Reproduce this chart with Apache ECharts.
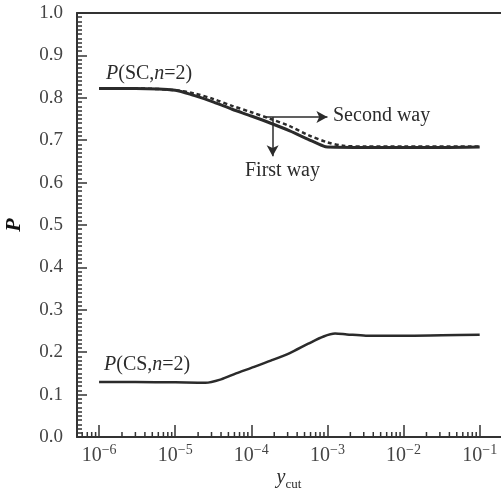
<!DOCTYPE html>
<html>
<head>
    <meta charset="utf-8">
    <script src="https://cdn.jsdelivr.net/npm/echarts@6/dist/echarts.min.js"></script>
    <style type="text/css">
        html, body { margin: 0; padding: 0; background: #fff; }
        #main { width: 501px; height: 488px; }
    </style>
</head>
<body>
    <div id="main"></div>
    <script>
        // y_cut values (log axis drawn as log10)
        const ycutSC = [1e-6, 3e-6, 1e-5, 1.8e-5, 3.2e-5, 5.6e-5, 1e-4, 1.8e-4, 3.2e-4, 5.6e-4, 8.9e-4, 1e-3, 3.2e-3, 1e-2, 3.2e-2, 1e-1];
        const pSC       = [0.822, 0.822, 0.818, 0.805, 0.790, 0.773, 0.757, 0.740, 0.722, 0.702, 0.686, 0.684, 0.683, 0.683, 0.683, 0.684];
        const ycutSC2 = [1e-6, 3e-6, 1e-5, 1.8e-5, 3.2e-5, 5.6e-5, 1e-4, 1.8e-4, 3.2e-4, 5.6e-4, 1e-3, 1.6e-3, 3.2e-3, 1e-2, 1e-1];
        const pSC2      = [0.822, 0.822, 0.818, 0.810, 0.797, 0.781, 0.766, 0.750, 0.733, 0.712, 0.695, 0.687, 0.685, 0.685, 0.685];
        const ycutCS = [1e-6, 3e-6, 1e-5, 2.5e-5, 4e-5, 6.3e-5, 1e-4, 1.8e-4, 3.2e-4, 5.6e-4, 8.9e-4, 1.26e-3, 1.8e-3, 3.2e-3, 1e-2, 3.2e-2, 1e-1];
        const pCS       = [0.130, 0.130, 0.129, 0.128, 0.136, 0.150, 0.163, 0.180, 0.198, 0.220, 0.237, 0.244, 0.242, 0.239, 0.239, 0.240, 0.241];
        const majorExp = [-6, -5, -4, -3, -2, -1];

        const X_MIN = -6.29, X_MAX = -0.72;
        const lg = Math.log10;
        const pair = (xs, ys) => xs.map((x, i) => [lg(x), ys[i]]);

        // minor ticks at 2..9 x 10^n inside the axis range
        const minor = [];
        for (let e = -7; e <= -1; e++) {
            for (let k = 2; k <= 9; k++) {
                const v = lg(k) + e;
                if (v > X_MIN && v < X_MAX) minor.push([v, 0]);
            }
        }

        const serif = 'Liberation Serif, Times New Roman, serif';
        const ink = '#2b2b2b';

        const chart = echarts.init(document.getElementById('main'));
        chart.setOption({
            animation: false,
            backgroundColor: '#fff',
            grid: { left: 77, top: 13, right: 0, bottom: 51, containLabel: false, outerBoundsMode: 'none' },
            xAxis: [{
                type: 'value', min: X_MIN, max: X_MAX,
                name: '{i|y}{s|cut}', nameLocation: 'middle', nameGap: 31, nameMoveOverlap: false,
                nameTextStyle: {
                    rich: {
                        i: { fontFamily: serif, fontStyle: 'italic', fontSize: 20, color: ink, verticalAlign: 'bottom', padding: [0, 0, 3, 0] },
                        s: { fontFamily: serif, fontSize: 13, color: ink, verticalAlign: 'bottom' }
                    }
                },
                axisLine: { lineStyle: { color: '#333', width: 2 } },
                axisTick: { inside: true, length: 12, customValues: majorExp, lineStyle: { color: '#333', width: 1.5 } },
                axisLabel: {
                    customValues: majorExp, margin: 6,
                    formatter: v => '{a|10}{b|\u2212' + Math.round(-v) + '}',
                    rich: {
                        a: { fontFamily: serif, fontSize: 20, color: '#444', verticalAlign: 'bottom' },
                        b: { fontFamily: serif, fontSize: 14, color: '#444', verticalAlign: 'bottom', padding: [0, 0, 9, 0] }
                    }
                },
                splitLine: { show: false }
            }, {
                type: 'value', min: X_MIN, max: X_MAX, position: 'top',
                axisLine: { lineStyle: { color: '#333', width: 2 } },
                axisTick: { show: false }, axisLabel: { show: false }, splitLine: { show: false }
            }],
            yAxis: {
                type: 'value', min: 0, max: 1, interval: 0.1,
                name: 'P', nameLocation: 'middle', nameGap: 52, nameRotate: 90, nameMoveOverlap: false,
                nameTextStyle: { fontFamily: serif, fontStyle: 'italic', fontWeight: 'bold', fontSize: 22, color: '#111' },
                axisLine: { show: true, lineStyle: { color: '#333', width: 2 } },
                axisTick: { inside: true, length: 10, lineStyle: { color: '#333', width: 1.5 } },
                minorTick: { show: true, splitNumber: 10, length: 5, lineStyle: { color: '#333', width: 1.5 } },
                axisLabel: { fontFamily: serif, fontSize: 19, color: '#444', margin: 14, formatter: v => v.toFixed(1) },
                splitLine: { show: false }
            },
            series: [{
                type: 'custom', xAxisIndex: 0, data: minor, silent: true,
                renderItem: (params, api) => {
                    const p = api.coord([api.value(0), 0]);
                    return { type: 'line', shape: { x1: p[0], y1: p[1], x2: p[0], y2: p[1] - 5 },
                             style: { stroke: '#333', lineWidth: 1.5 } };
                }
            }, {
                type: 'line', data: pair(ycutSC2, pSC2), smooth: 0.3, showSymbol: false,
                lineStyle: { color: ink, width: 2.5, type: [4, 3] },
                markLine: {
                    silent: true, symbolSize: [9, 11], label: { show: false },
                    lineStyle: { color: ink, width: 1.5, type: 'solid' },
                    data: [
                        [{ coord: [-3.83, 0.755], symbol: 'none' }, { coord: [-3.0, 0.755], symbol: 'arrow' }],
                        [{ coord: [-3.72, 0.755], symbol: 'none' }, { coord: [-3.72, 0.662], symbol: 'arrow' }]
                    ]
                }
            }, {
                type: 'line', data: pair(ycutSC, pSC), smooth: 0.3, showSymbol: false,
                lineStyle: { color: ink, width: 3 }
            }, {
                type: 'line', data: pair(ycutCS, pCS), smooth: 0.3, showSymbol: false,
                lineStyle: { color: ink, width: 2.5 }
            }],
            graphic: [
                { type: 'text', left: 106, top: 64, style: { text: '{i|P}(SC,{i|n}=2)', fill: ink, font: '20px ' + serif,
                    rich: { i: { fontStyle: 'italic', fontSize: 20, fontFamily: serif, fill: ink } } } },
                { type: 'text', left: 104, top: 355, style: { text: '{i|P}(CS,{i|n}=2)', fill: ink, font: '20px ' + serif,
                    rich: { i: { fontStyle: 'italic', fontSize: 20, fontFamily: serif, fill: ink } } } },
                { type: 'text', left: 333, top: 106, style: { text: 'Second way', fill: ink, font: '20px ' + serif } },
                { type: 'text', left: 245, top: 161, style: { text: 'First way', fill: ink, font: '20px ' + serif } }
            ]
        });
    </script>
</body>
</html>
